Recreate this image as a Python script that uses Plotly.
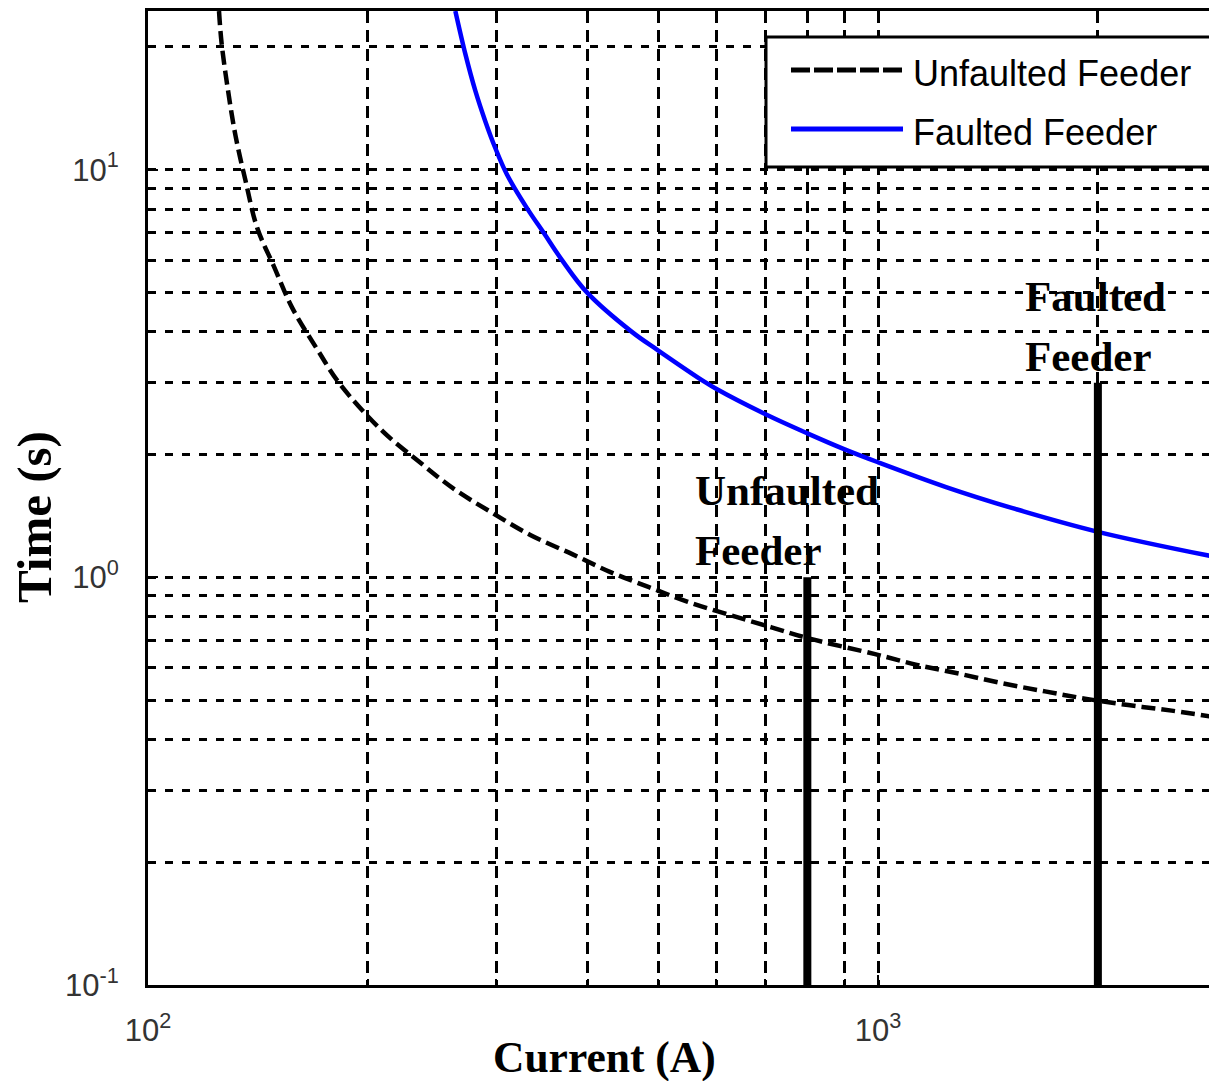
import math
import plotly.graph_objects as go

# ---------------- data ----------------
unfaulted_current = [125.1, 126.1, 128.6, 131.8, 136.0, 141.1, 148.7, 157.6, 170.1, 183.4,
                     209.7, 235.2, 262.1, 294.1, 333.9, 381.1, 430.0, 485.5, 547.6, 625.5,
                     714.5, 801.5, 990.6, 1130, 1293, 1477, 1693, 1920, 2201, 2524, 2912]
unfaulted_time = [24.5, 20.5, 15.8, 12.1, 9.4, 7.2, 5.8, 4.58, 3.65, 2.97,
                  2.28, 1.92, 1.65, 1.45, 1.27, 1.14, 1.03, 0.946, 0.872, 0.809,
                  0.754, 0.709, 0.648, 0.610, 0.580, 0.550, 0.525, 0.504, 0.486, 0.471, 0.453]

faulted_current = [263.6, 272.1, 280.8, 289.7, 299.0, 310.2, 331.1, 348.3, 369, 399.2, 460,
                   500, 578, 600, 700, 800, 900, 1000, 1239, 1524, 2000, 2912]
faulted_time = [24.5, 19.2, 15.6, 13.15, 11.3, 9.73, 8.0, 7.0, 6.0, 5.0, 4.0,
                3.6, 3.02, 2.90, 2.515, 2.255, 2.06, 1.915, 1.665, 1.48, 1.293, 1.12]

# operating points (vertical bars from the axis floor)
relay_label_lines = [["Unfaulted", "Feeder"], ["Faulted", "Feeder"]]
relay_current = [800, 2000]
relay_time = [1.0, 3.0]
time_floor = 0.1

series_names = ["Unfaulted Feeder", "Faulted Feeder"]

x_major = [100, 1000]
x_major_text = ["10<sup>2</sup>", "10<sup>3</sup>"]
x_minor = [200, 300, 400, 500, 600, 700, 800, 900, 2000, 3000]
y_major = [0.1, 1, 10]
y_major_text = ["10<sup>-1</sup>", "10<sup>0</sup>", "10<sup>1</sup>"]
y_minor = [0.2, 0.3, 0.4, 0.5, 0.6, 0.7, 0.8, 0.9, 2, 3, 4, 5, 6, 7, 8, 9, 20]

x_range = [100, 2912]
y_range = [0.1, 24.5]

x_title = "Current (A)"
y_title = "Time (s)"

# ---------------- figure geometry ----------------
# the page body has an 8px margin, so the figure is drawn 8px smaller
W, H = 1209, 1073
PLOT_L, PLOT_T, PLOT_B = 148, 11, 985      # plot edges in screen pixels
OFF = 8
ML = PLOT_L - OFF
MT = PLOT_T - OFF
MB = H - (PLOT_B - OFF)
MR = 0
PW = W - ML - MR
PH = H - MT - MB


def px_x(px):
    return (px - PLOT_L) / PW


def px_y(py):
    return (PLOT_B - py) / PH


fig = go.Figure()

fig.add_trace(go.Scatter(x=unfaulted_current, y=unfaulted_time, mode="lines",
                         name=series_names[0],
                         line=dict(color="black", width=4.5, dash="14px,6px",
                                   shape="spline", smoothing=1),
                         showlegend=False))
fig.add_trace(go.Scatter(x=faulted_current, y=faulted_time, mode="lines",
                         name=series_names[1],
                         line=dict(color="#0000FF", width=4.5, shape="spline", smoothing=1),
                         showlegend=False))

for i in range(len(relay_current)):
    fig.add_trace(go.Scatter(x=[relay_current[i], relay_current[i]], y=[time_floor, relay_time[i]],
                             mode="lines", line=dict(color="black", width=8), showlegend=False,
                             hoverinfo="skip"))

serif = "Liberation Serif, Times New Roman, serif"
sans = "Liberation Sans, Arial, sans-serif"

annotations = []
# feeder labels above each bar, left edge positions in screen px
label_left_px = [693, 1023]
line_shifts = [61, 1]
for i in range(len(relay_current)):
    lx = 10 ** (math.log10(x_range[0]) + (label_left_px[i] - PLOT_L) / PW *
                (math.log10(x_range[1]) - math.log10(x_range[0])))
    for line, shift in zip(relay_label_lines[i], line_shifts):
        annotations.append(dict(x=math.log10(lx), y=math.log10(relay_time[i]),
                                xref="x", yref="y", text="<b>" + line + "</b>",
                                showarrow=False, xanchor="left", yanchor="bottom", align="left",
                                font=dict(family=serif, size=43, color="black"), yshift=shift))

# axis titles
annotations.append(dict(x=px_x(604), y=px_y(1057), xref="paper", yref="paper",
                        text="<b>" + x_title + "</b>", showarrow=False, xanchor="center",
                        yanchor="middle", font=dict(family=serif, size=43.5, color="black")))
annotations.append(dict(x=px_x(34), y=px_y(517), xref="paper", yref="paper",
                        text="<b>" + y_title + "</b>", showarrow=False, xanchor="center",
                        yanchor="middle", textangle=-90,
                        font=dict(family=serif, size=49, color="black")))

# legend box drawn with shapes
lx0, lx1, ly0, ly1 = 766, 1213, 37, 167
shapes = [dict(type="rect", xref="paper", yref="paper",
               x0=px_x(lx0), x1=px_x(lx1), y0=px_y(ly1), y1=px_y(ly0),
               line=dict(color="black", width=3), fillcolor="white", layer="above")]
legend_rows = [70, 129]
legend_styles = [dict(color="black", width=5, dash="19px,4px"), dict(color="#0000FF", width=5)]
for r, st in zip(legend_rows, legend_styles):
    shapes.append(dict(type="line", xref="paper", yref="paper",
                       x0=px_x(791), x1=px_x(903), y0=px_y(r), y1=px_y(r), line=st, layer="above"))
for r, name in zip(legend_rows, series_names):
    annotations.append(dict(x=px_x(911), y=px_y(r + 3), xref="paper", yref="paper",
                            text=name, showarrow=False, xanchor="left", yanchor="middle",
                            font=dict(family=sans, size=36, color="black")))

axis_common = dict(type="log", showline=True, linecolor="black", linewidth=3,
                   ticks="inside", ticklen=10, tickwidth=2, tickcolor="black",
                   showgrid=True, gridcolor="black",
                   tickfont=dict(family=sans, size=31, color="#333333"),
                   zeroline=False, fixedrange=True)

fig.update_layout(
    width=W, height=H, margin=dict(l=ML, r=MR, t=MT, b=MB, autoexpand=False),
    paper_bgcolor="white", plot_bgcolor="white", showlegend=False,
    xaxis=dict(range=[math.log10(x_range[0]), math.log10(x_range[1])], mirror="ticks",
               tickmode="array", tickvals=x_major, ticktext=x_major_text,
               gridwidth=2.5, griddash="12px,7px", ticklabelstandoff=16,
               minor=dict(tickmode="array", tickvals=x_minor, ticks="inside", ticklen=6,
                          tickwidth=2, tickcolor="black", showgrid=True, gridcolor="black",
                          gridwidth=2.5, griddash="12px,7px"),
               **axis_common),
    yaxis=dict(range=[math.log10(y_range[0]), math.log10(y_range[1])], mirror=False,
               tickmode="array", tickvals=y_major, ticktext=y_major_text,
               gridwidth=3, griddash="8px,9px", ticklabelstandoff=20,
               minor=dict(tickmode="array", tickvals=y_minor, ticks="inside", ticklen=6,
                          tickwidth=2, tickcolor="black", showgrid=True, gridcolor="black",
                          gridwidth=3, griddash="8px,9px"),
               **axis_common),
    annotations=annotations, shapes=shapes,
)

fig.write_html("out.html")
